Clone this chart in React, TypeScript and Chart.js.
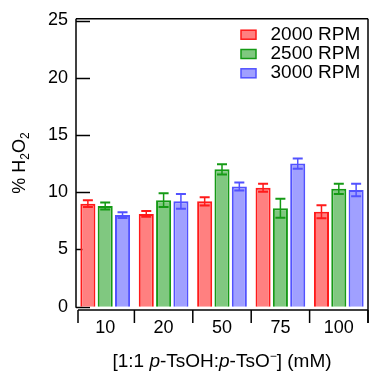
import React, { useEffect, useRef } from "react";
import { Chart, registerables } from "chart.js";

Chart.register(...registerables);

const categories = ["10", "20", "50", "75", "100"];
const seriesLabels = ["2000 RPM", "2500 RPM", "3000 RPM"];
const rpm2000 = [9.0, 8.1, 9.2, 10.4, 8.3];
const err2000 = [0.3, 0.25, 0.35, 0.35, 0.57];
const rpm2500 = [8.8, 9.3, 12.0, 8.6, 10.3];
const err2500 = [0.3, 0.6, 0.45, 0.83, 0.45];
const rpm3000 = [8.0, 9.2, 10.5, 12.5, 10.2];
const err3000 = [0.25, 0.65, 0.35, 0.45, 0.55];
const yTicks = [0, 5, 10, 15, 20, 25];

const FONT = '"Liberation Sans", Arial, Helvetica, sans-serif';
const fills = ["#ff8080", "#80c880", "#a0a0ff"];
const borders = ["#ff1a1a", "#159a15", "#5252ff"];
const errors = [err2000, err2500, err3000];

const framePlugin = {
  id: "frame",
  beforeDatasetsDraw(chart: any) {
    const { ctx, chartArea } = chart;
    const y = chart.scales.y;
    ctx.save();
    ctx.strokeStyle = "#000";
    ctx.lineWidth = 1.5;
    for (const t of yTicks) {
      const py = Math.round(y.getPixelForValue(t)) + 0.5;
      ctx.beginPath();
      ctx.moveTo(chartArea.left, py);
      ctx.lineTo(chartArea.left + 14, py);
      ctx.stroke();
    }
    ctx.restore();
  },
  afterDatasetsDraw(chart: any) {
    const { ctx, chartArea } = chart;
    const y = chart.scales.y;
    const x = chart.scales.x;
    ctx.save();
    ctx.strokeStyle = "#000";
    ctx.lineWidth = 1.5;
    const top = chartArea.top;
    const left = chartArea.left;
    const right = chartArea.right;
    const y0 = y.getPixelForValue(0);
    ctx.beginPath();
    ctx.moveTo(left, top);
    ctx.lineTo(left, y0 + 1);
    ctx.stroke();
    ctx.beginPath();
    ctx.moveTo(left, top);
    ctx.lineTo(right, top);
    ctx.stroke();
    ctx.beginPath();
    ctx.moveTo(right, top);
    ctx.lineTo(right, chartArea.bottom + 13);
    ctx.stroke();
    const n = categories.length;
    const step = x.getPixelForValue(1) - x.getPixelForValue(0);
    const x0 = x.getPixelForValue(0) - step / 2 + 2;
    const xb = chartArea.bottom;
    ctx.beginPath();
    ctx.moveTo(x0, xb);
    ctx.lineTo(right, xb);
    ctx.stroke();
    for (let k = 0; k <= n; k++) {
      const px = k === 0 ? x0 : Math.min(x.getPixelForValue(0) - step / 2 + k * step, right);
      ctx.beginPath();
      ctx.moveTo(px, xb);
      ctx.lineTo(px, xb + 13);
      ctx.stroke();
    }
    chart.data.datasets.forEach((ds: any, di: number) => {
      const meta = chart.getDatasetMeta(di);
      ctx.strokeStyle = borders[di];
      meta.data.forEach((el: any, i: number) => {
        const v = ds.data[i];
        const e = errors[di][i];
        const yt = y.getPixelForValue(v + e);
        const yb = y.getPixelForValue(v - e);
        ctx.lineWidth = 1.5;
        ctx.beginPath();
        ctx.moveTo(el.x, yt);
        ctx.lineTo(el.x, yb);
        ctx.stroke();
        ctx.lineWidth = 2;
        ctx.beginPath();
        ctx.moveTo(el.x - 5, yt);
        ctx.lineTo(el.x + 5, yt);
        ctx.moveTo(el.x - 5, yb);
        ctx.lineTo(el.x + 5, yb);
        ctx.stroke();
      });
    });
    chart.data.datasets.forEach((ds: any, di: number) => {
      const cy = 34.7 + di * 19.3;
      ctx.fillStyle = fills[di];
      ctx.fillRect(241, cy - 4.5, 15, 9);
      ctx.strokeStyle = borders[di];
      ctx.lineWidth = 1.5;
      ctx.strokeRect(241, cy - 4.5, 15, 9);
      ctx.fillStyle = "#000";
      ctx.font = `19px ${FONT}`;
      ctx.textBaseline = "alphabetic";
      ctx.textAlign = "left";
      ctx.fillText(ds.label, 270.5, cy + 5);
    });
    ctx.save();
    ctx.translate(25, 163);
    ctx.rotate(-Math.PI / 2);
    ctx.fillStyle = "#000";
    ctx.textBaseline = "alphabetic";
    ctx.textAlign = "left";
    const ySegs: [string, number, number][] = [
      ["% H", 18, 0],
      ["2", 12, 4],
      ["O", 18, 0],
      ["2", 12, 4],
    ];
    let w = 0;
    for (const [s, f] of ySegs) {
      ctx.font = `${f}px ${FONT}`;
      w += ctx.measureText(s).width;
    }
    let cx = -w / 2;
    for (const [s, f, dy] of ySegs) {
      ctx.font = `${f}px ${FONT}`;
      ctx.fillText(s, cx, dy);
      cx += ctx.measureText(s).width;
    }
    ctx.restore();
    const xSegs: [string, string, number][] = [
      ["[1:1 ", "", 0],
      ["p", "italic ", 0],
      ["-TsOH:", "", 0],
      ["p", "italic ", 0],
      ["-TsO", "", 0],
      ["\u2212", "", -7],
      ["] (mM)", "", 0],
    ];
    const fontFor = (st: string, dy: number) => `${st}${dy !== 0 ? 12 : 19}px ${FONT}`;
    let tw = 0;
    for (const [s, st, dy] of xSegs) {
      ctx.font = fontFor(st, dy);
      tw += ctx.measureText(s).width;
    }
    let tx = 222 - tw / 2;
    ctx.fillStyle = "#000";
    for (const [s, st, dy] of xSegs) {
      ctx.font = fontFor(st, dy);
      ctx.fillText(s, tx, 366.5 + dy);
      tx += ctx.measureText(s).width;
    }
    ctx.restore();
  },
};

export default function App() {
  const ref = useRef<HTMLCanvasElement>(null);
  useEffect(() => {
    if (!ref.current) return;
    const chart = new Chart(ref.current, {
      type: "bar",
      data: {
        labels: categories,
        datasets: [rpm2000, rpm2500, rpm3000].map((d, i) => ({
          label: seriesLabels[i],
          data: d,
          backgroundColor: fills[i],
          borderColor: borders[i],
          borderWidth: 2,
          categoryPercentage: 0.89,
          barPercentage: 0.87,
        })),
      },
      options: {
        responsive: false,
        animation: false,
        layout: { padding: { left: 0, top: 17.5, right: 2, bottom: 0 } },
        plugins: {
          legend: { display: false },
          tooltip: { enabled: false },
          title: { display: false },
        },
        scales: {
          x: {
            offset: true,
            grid: { display: false, drawTicks: false },
            border: { display: false },
            ticks: { color: "#000", font: { family: FONT, size: 18 }, padding: 7, maxRotation: 0 },
            afterFit: (s: any) => {
              s.height = 63;
            },
          },
          y: {
            min: -0.29,
            max: 25.15,
            grid: { display: false, drawTicks: false },
            border: { display: false },
            afterBuildTicks: (s: any) => {
              s.ticks = yTicks.map((v) => ({ value: v }));
            },
            ticks: { color: "#000", font: { family: FONT, size: 18 }, padding: 8 },
            afterFit: (s: any) => {
              s.width = 76;
            },
          },
        },
      },
      plugins: [framePlugin],
    });
    return () => chart.destroy();
  }, []);
  return (
    <div style={{ position: "fixed", left: 0, top: 0, width: 370, height: 373, background: "#fff" }}>
      <canvas ref={ref} width={370} height={373} style={{ position: "absolute", left: 0, top: 0 }} />
    </div>
  );
}
